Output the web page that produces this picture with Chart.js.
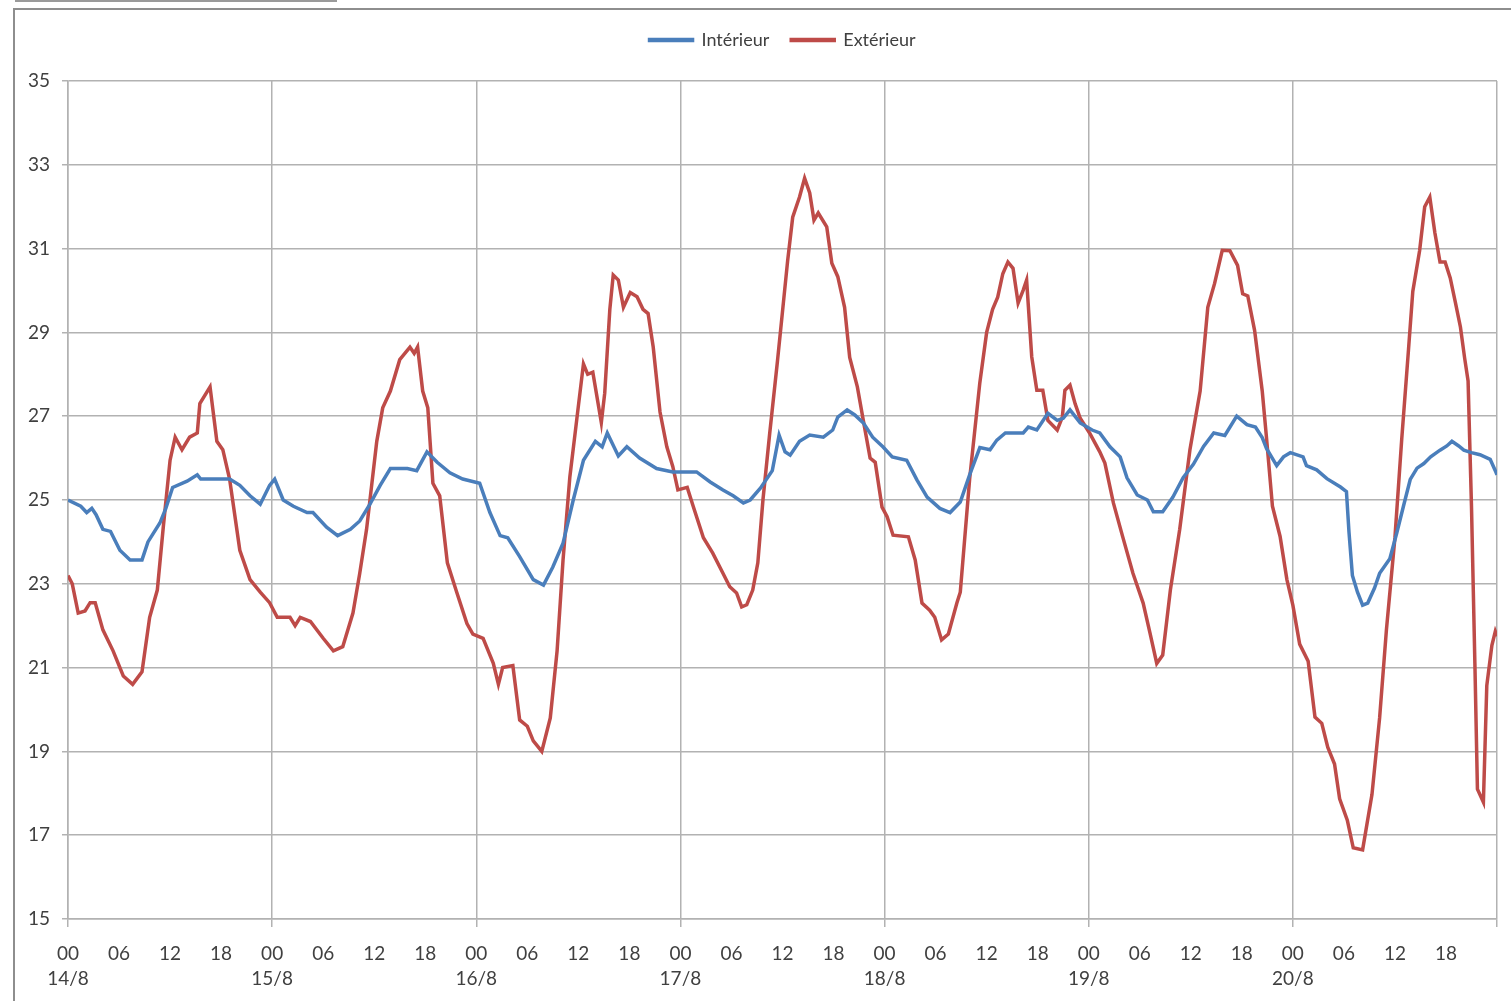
<!DOCTYPE html>
<html>
<head>
<meta charset="utf-8">
<script src="https://cdn.jsdelivr.net/npm/chart.js@4.4.0/dist/chart.umd.min.js"></script>
<style>
html, body { margin: 0; padding: 0; background: #fff; overflow: hidden; }
#wrap { position: relative; width: 1511px; height: 1001px; }
#strip { position: absolute; left: 15px; top: 0; width: 322px; height: 2px; background: #9a9a9a; }
#frame { position: absolute; left: 13px; top: 8px; width: 1530px; height: 1030px; border: 2px solid #8e8e8e; box-sizing: border-box; }
canvas { position: absolute; left: 0; top: 0; }
</style>
</head>
<body>
<div id="wrap">
  <div id="strip"></div>
  <div id="frame"></div>
  <canvas id="tempChart" width="1511" height="1001"></canvas>
</div>
<script>
// hours since 14/8 00:00
const dayLabels = ['14/8', '15/8', '16/8', '17/8', '18/8', '19/8', '20/8'];
const hourLabels = ['00', '06', '12', '18'];

const interiorHours = [0, 1.5, 2.2, 2.8, 3.3, 4.1, 5.0, 6.1, 7.3, 8.7, 9.4, 10.8, 11.5, 12.3, 14.0, 15.2, 15.6, 19.0, 20.2, 21.4, 22.6, 23.7,
    24.3, 25.3, 26.5, 28.1, 28.8, 30.4, 31.7, 33.2, 34.3, 35.5, 36.7, 37.9, 39.9, 41.0, 42.2, 43.4, 44.9, 46.4,
    48.4, 49.6, 50.8, 51.7, 53.1, 54.7, 55.9, 57.0, 58.2, 59.4, 60.6, 62.0, 62.8, 63.4, 64.7, 65.7, 67.2, 69.2, 71.1,
    73.9, 75.5, 77.0, 78.2, 79.4, 80.2, 81.4, 82.8, 83.6, 84.3, 84.9, 86.0, 87.2, 88.8, 89.9, 90.5, 91.6, 92.5, 93.5, 94.6, 95.8,
    96.9, 98.6, 99.8, 101.0, 102.5, 103.7, 104.9, 106.0, 107.2, 108.4, 109.2, 110.2, 112.3, 112.9, 113.9, 115.2, 116.3, 117.0, 117.8, 119.0,
    120.4, 121.3, 122.5, 123.7, 124.5, 125.7, 126.9, 127.6, 128.7, 129.9, 131.1, 132.3, 133.5, 134.7, 136.0, 137.4, 138.6, 139.6, 140.4, 140.9, 142.1, 142.9,
    143.7, 145.2, 145.6, 146.8, 148.0, 149.6, 150.3, 150.6, 151.0, 151.6, 152.2, 152.8, 153.6, 154.2, 155.4, 156.2, 157.0, 157.8, 158.6, 159.4,
    160.2, 161.3, 162.1, 162.7, 163.5, 164.1, 165.0, 166.0, 167.2, 167.8, 168.0];
const interiorTemps = [25.0, 24.85, 24.7, 24.8, 24.65, 24.3, 24.25, 23.8, 23.57, 23.57, 24.0, 24.45, 24.8, 25.3, 25.45, 25.6, 25.5, 25.5, 25.35, 25.1, 24.9, 25.35,
    25.5, 25.0, 24.85, 24.7, 24.7, 24.35, 24.15, 24.3, 24.5, 24.9, 25.35, 25.75, 25.75, 25.7, 26.15, 25.9, 25.65, 25.5,
    25.4, 24.7, 24.15, 24.1, 23.65, 23.1, 22.97, 23.4, 23.97, 25.0, 25.95, 26.4, 26.27, 26.6, 26.05, 26.27, 26.0, 25.75, 25.67,
    25.67, 25.43, 25.24, 25.1, 24.93, 25.0, 25.28, 25.7, 26.55, 26.15, 26.07, 26.4, 26.55, 26.5, 26.67, 26.98, 27.15, 27.03, 26.84, 26.5, 26.27,
    26.03, 25.95, 25.48, 25.07, 24.8, 24.7, 24.95, 25.6, 26.25, 26.2, 26.43, 26.6, 26.6, 26.74, 26.67, 27.07, 26.9, 26.95, 27.15, 26.84,
    26.67, 26.6, 26.27, 26.03, 25.53, 25.12, 25.0, 24.72, 24.72, 25.07, 25.53, 25.85, 26.28, 26.6, 26.54, 27.0, 26.8, 26.74, 26.49, 26.23, 25.82, 26.03,
    26.13, 26.03, 25.82, 25.72, 25.51, 25.31, 25.2, 24.23, 23.2, 22.8, 22.49, 22.54, 22.9, 23.25, 23.6, 24.2, 24.85, 25.49, 25.76, 25.87,
    26.03, 26.19, 26.29, 26.4, 26.29, 26.19, 26.13, 26.08, 25.97, 25.7, 25.6];

const exteriorHours = [0, 0.5, 1.2, 2.0, 2.6, 3.2, 4.1, 5.3, 6.5, 7.6, 8.7, 9.6, 10.5, 11.2, 12.0, 12.6, 13.4, 14.3, 15.2, 15.5, 16.7, 17.5, 18.2, 19.0,
    20.2, 21.4, 22.6, 23.7, 24.6, 26.1, 26.7, 27.3, 28.5, 30.0, 31.2, 32.3, 33.5, 34.3, 35.1, 36.3, 37.0, 37.9, 39.0, 40.2, 40.7, 41.1, 41.7,
    42.3, 42.9, 43.7, 44.6, 45.7, 46.9, 47.6, 48.8, 50.0, 50.6, 51.1, 52.3, 53.1, 54.0, 54.7, 55.7, 56.7, 57.5, 58.2, 59.0, 59.8, 60.6,
    61.1, 61.7, 62.7, 63.1, 63.7, 64.1, 64.7, 65.3, 66.1, 66.9, 67.6, 68.2, 68.8, 69.6, 70.4, 71.1, 71.7, 72.8, 73.5, 74.7, 75.8, 77.0,
    77.8, 78.6, 79.2, 79.8, 80.5, 81.1, 81.7, 82.5, 83.4, 84.1, 84.6, 85.2, 86.0, 86.6, 87.2, 87.7, 88.2, 89.2, 89.8, 90.5, 91.3, 91.9,
    92.8, 93.5, 94.3, 94.9, 95.7, 96.3, 97.0, 98.8, 99.6, 100.4, 101.3, 101.9, 102.7, 103.5, 104.5, 104.9, 106.0, 107.2, 108.0, 108.7,
    109.3, 109.9, 110.5, 111.1, 111.7, 112.3, 112.7, 113.3, 113.9, 114.6, 115.2, 116.3, 116.9, 117.2, 117.8, 118.4, 119.0, 120.1, 121.3,
    121.9, 122.9, 124.0, 125.2, 126.4, 127.2, 128.0, 128.7, 129.6, 130.7, 131.9, 133.1, 134.0, 134.8, 135.7, 136.6, 137.5, 138.1, 138.7,
    139.5, 140.4, 140.9, 141.6, 142.5, 143.3, 144.0, 144.8, 145.8, 146.6, 147.4, 148.1, 148.9, 149.5, 150.4, 151.1, 152.2, 153.3, 154.2,
    155.0, 156.0, 156.8, 157.6, 158.1, 158.9, 159.5, 160.1, 160.7, 161.3, 161.9, 162.5, 163.1, 163.7, 164.2, 164.6, 165.0, 165.4, 165.7,
    166.4, 166.8, 167.4, 167.8, 168.0];
const exteriorTemps = [23.2, 23.0, 22.3, 22.35, 22.55, 22.55, 21.9, 21.4, 20.8, 20.6, 20.9, 22.2, 22.85, 24.35, 25.95, 26.5, 26.2, 26.5, 26.6, 27.3, 27.7, 26.4, 26.2, 25.5,
    23.8, 23.1, 22.8, 22.55, 22.2, 22.2, 22.0, 22.2, 22.1, 21.7, 21.4, 21.5, 22.3, 23.25, 24.3, 26.4, 27.2, 27.6, 28.35, 28.65, 28.5, 28.65, 27.6,
    27.2, 25.4, 25.1, 23.5, 22.8, 22.05, 21.8, 21.7, 21.1, 20.6, 21.0, 21.05, 19.75, 19.6, 19.25, 19.0, 19.8, 21.4, 23.57, 25.55, 26.9, 28.25,
    28.0, 28.05, 26.85, 27.55, 29.55, 30.37, 30.25, 29.6, 29.95, 29.85, 29.55, 29.45, 28.65, 27.1, 26.27, 25.8, 25.24, 25.3, 24.85, 24.1, 23.73, 23.25,
    22.93, 22.78, 22.45, 22.5, 22.85, 23.5, 25.0, 26.6, 28.3, 29.7, 30.7, 31.75, 32.23, 32.68, 32.33, 31.68, 31.85, 31.52, 30.65, 30.33, 29.6, 28.4,
    27.7, 26.9, 26.0, 25.9, 24.83, 24.6, 24.16, 24.12, 23.57, 22.54, 22.37, 22.2, 21.66, 21.8, 22.54, 22.8, 25.5, 27.8, 29.0, 29.55,
    29.84, 30.4, 30.68, 30.53, 29.7, 30.01, 30.25, 28.42, 27.62, 27.62, 26.9, 26.67, 26.98, 27.62, 27.74, 27.3, 26.95, 26.6, 26.15,
    25.88, 24.93, 24.12, 23.25, 22.54, 21.83, 21.1, 21.3, 22.85, 24.3, 26.2, 27.6, 29.6, 30.17, 30.96, 30.95, 30.6, 29.92, 29.87,
    29.05, 27.6, 26.49, 24.85, 24.13, 23.1, 22.49, 21.56, 21.15, 19.82, 19.67, 19.1, 18.7, 17.87, 17.36, 16.7, 16.65, 17.97, 19.8,
    21.9, 24.1, 26.45, 28.6, 29.98, 30.95, 32.0, 32.23, 31.37, 30.68, 30.68, 30.3, 29.72, 29.13, 28.38, 27.84, 24.85, 21.1, 18.1,
    17.79, 20.57, 21.53, 21.86, 21.75];

const gridColor = '#b2b2b2';
const textColor = '#404040';

function toPoints(hours, temps) {
    return hours.map((h, i) => ({ x: h, y: temps[i] }));
}

// extra space between the legend and the plot
const legendGap = {
    id: 'legendGap',
    beforeInit(chart) {
        const fit = chart.legend.fit;
        chart.legend.fit = function () {
            fit.call(chart.legend);
            this.height += 22;
        };
    }
};

const ctx = document.getElementById('tempChart').getContext('2d');
const chart = new Chart(ctx, {
    type: 'line',
    data: {
        datasets: [{
            label: 'Intérieur',
            data: toPoints(interiorHours, interiorTemps),
            borderColor: '#4a7ebb',
            backgroundColor: '#4a7ebb',
            borderWidth: 3.5,
            pointRadius: 0,
            tension: 0
        }, {
            label: 'Extérieur',
            data: toPoints(exteriorHours, exteriorTemps),
            borderColor: '#be4b48',
            backgroundColor: '#be4b48',
            borderWidth: 3.5,
            pointRadius: 0,
            tension: 0
        }]
    },
    plugins: [legendGap],
    options: {
        responsive: false,
        animation: false,
        layout: {
            padding: { left: 0, right: 14, top: 9, bottom: 0 }
        },
        plugins: {
            legend: {
                display: true,
                position: 'top',
                fullSize: false,
                labels: {
                    boxWidth: 43,
                    boxHeight: 1,
                    padding: 22,
                    color: textColor,
                    font: { family: 'Lato', size: 18 }
                }
            },
            tooltip: { enabled: false }
        },
        scales: {
            x: {
                type: 'linear',
                min: 0,
                max: 168,
                afterBuildTicks: (scale) => {
                    const ticks = [];
                    for (let d = 0; d <= dayLabels.length; d++) {
                        for (let q = 0; q < hourLabels.length; q++) {
                            const v = d * 24 + q * 6;
                            if (v <= 168) ticks.push({ value: v });
                        }
                    }
                    scale.ticks = ticks;
                },
                afterFit: (scale) => { scale.height = 82; },
                ticks: {
                    autoSkip: false,
                    maxRotation: 0,
                    padding: 14,
                    color: textColor,
                    font: { family: 'Lato', size: 19, lineHeight: 1.32 },
                    callback: (value) => {
                        const day = Math.floor(value / 24);
                        if (day >= dayLabels.length) return '';
                        const hour = hourLabels[(value % 24) / 6];
                        return value % 24 === 0 ? [hour, dayLabels[day]] : hour;
                    }
                },
                grid: {
                    color: (c) => (c.tick && c.tick.value % 24 === 0) ? gridColor : 'rgba(0,0,0,0)',
                    lineWidth: 1.5,
                    tickLength: 8
                },
                border: { color: gridColor, width: 1.5 }
            },
            y: {
                min: 15,
                max: 35,
                afterFit: (scale) => { scale.width = 68; },
                ticks: {
                    stepSize: 2,
                    padding: 12,
                    color: textColor,
                    font: { family: 'Lato', size: 19 }
                },
                grid: {
                    color: gridColor,
                    lineWidth: 1.5,
                    tickLength: 6
                },
                border: { color: gridColor, width: 1.5 }
            }
        }
    }
});
</script>
</body>
</html>
